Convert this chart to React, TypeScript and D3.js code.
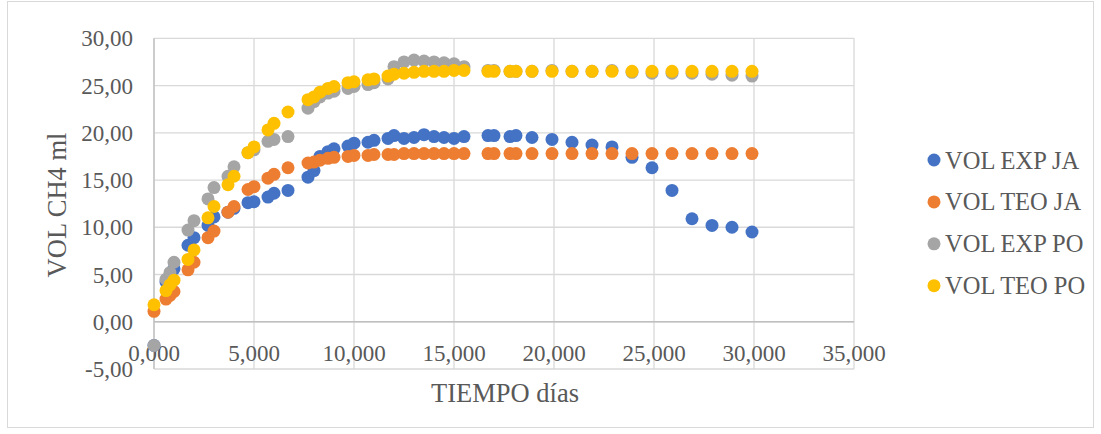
import React from "react";
import * as d3 from "d3";

// Tiempo (días) shared by all four series
const tiempo = [
  0, 0.6, 0.8, 1.0, 1.7, 2.0, 2.7, 3.0, 3.7, 4.0, 4.7, 5.0, 5.7, 6.0, 6.7,
  7.7, 8.0, 8.3, 8.7, 9.0, 9.7, 10.0, 10.7, 11.0, 11.7, 12.0, 12.5, 13.0,
  13.5, 14.0, 14.5, 15.0, 15.5, 16.7, 17.0, 17.8, 18.1, 18.9, 19.9, 20.9,
  21.9, 22.9, 23.9, 24.9, 25.9, 26.9, 27.9, 28.9, 29.9,
];

const volExpJA = [
  -2.5, 4.2, 4.8, 5.6, 8.1, 8.9, 10.2, 11.1, 11.6, 12.0, 12.6, 12.7, 13.2,
  13.6, 13.9, 15.3, 16.0, 17.5, 18.0, 18.3, 18.6, 18.9, 19.0, 19.2, 19.4,
  19.7, 19.4, 19.5, 19.8, 19.6, 19.5, 19.4, 19.6, 19.7, 19.7, 19.6, 19.7,
  19.5, 19.3, 19.0, 18.7, 18.5, 17.4, 16.3, 13.9, 10.9, 10.2, 10.0, 9.5,
];

const volTeoJA = [
  1.1, 2.4, 2.8, 3.2, 5.5, 6.3, 8.9, 9.6, 11.6, 12.2, 14.0, 14.3, 15.2,
  15.6, 16.3, 16.8, 16.9, 17.1, 17.3, 17.4, 17.5, 17.6, 17.6, 17.7, 17.7,
  17.7, 17.8, 17.8, 17.8, 17.8, 17.8, 17.8, 17.8, 17.8, 17.8, 17.8, 17.8,
  17.8, 17.8, 17.8, 17.8, 17.8, 17.8, 17.8, 17.8, 17.8, 17.8, 17.8, 17.8,
];

const volExpPO = [
  -2.5, 4.5, 5.2, 6.3, 9.7, 10.7, 13.0, 14.2, 15.4, 16.4, 17.9, 18.2, 19.1,
  19.3, 19.6, 22.6, 23.3, 23.8, 24.2, 24.4, 24.7, 24.9, 25.1, 25.3, 25.7,
  27.0, 27.5, 27.7, 27.6, 27.5, 27.4, 27.3, 27.0, 26.6, 26.6, 26.5, 26.5,
  26.5, 26.6, 26.5, 26.5, 26.6, 26.4, 26.3, 26.3, 26.3, 26.2, 26.1, 26.0,
];

const volTeoPO = [
  1.8, 3.3, 3.9, 4.4, 6.6, 7.6, 11.0, 12.2, 14.5, 15.4, 17.9, 18.5, 20.3,
  21.0, 22.2, 23.5, 23.8, 24.3, 24.7, 24.9, 25.3, 25.4, 25.6, 25.7, 26.0,
  26.2, 26.3, 26.4, 26.5, 26.5, 26.5, 26.6, 26.6, 26.5, 26.5, 26.5, 26.5,
  26.5, 26.5, 26.5, 26.5, 26.5, 26.5, 26.5, 26.5, 26.5, 26.5, 26.5, 26.5,
];

const seriesNames = ["VOL EXP JA", "VOL TEO JA", "VOL EXP PO", "VOL TEO PO"];
const seriesValues = [volExpJA, volTeoJA, volExpPO, volTeoPO];
const seriesColors = ["#4472C4", "#ED7D31", "#A5A5A5", "#FFC000"];

const xTicks = [0, 5, 10, 15, 20, 25, 30, 35];
const yTicks = [-5, 0, 5, 10, 15, 20, 25, 30];

const xTitle = "TIEMPO días";
const yTitle = "VOL CH4 ml";

const W = 1101;
const H = 434;
const FONT = "'Liberation Serif', 'Times New Roman', serif";
const TEXT = "#595959";
const GRID = "#D9D9D9";

const x = d3.scaleLinear().domain([0, 35]).range([154, 854]);
const y = d3.scaleLinear().domain([-5, 30]).range([369, 38.3]);

// Spanish-style decimals with a plain hyphen for negatives
const fmt = (spec: string) => (v: number) =>
  d3.format(spec)(v).replace("\u2212", "-").replace(".", ",");
const fmtX = fmt(".3f");
const fmtY = fmt(".2f");

export default function App() {
  const r = 6.5;
  return (
    <svg
      width={W}
      height={H}
      style={{ position: "absolute", left: 0, top: 0, background: "#fff" }}
      fontFamily={FONT}
    >
      <rect x={7.5} y={1.5} width={1086} height={426} fill="#fff" stroke={GRID} />

      {/* grid */}
      {yTicks.map((t) => (
        <line key={"gy" + t} x1={x(0)} x2={x(35)} y1={y(t)} y2={y(t)} stroke={GRID} strokeWidth={1.3} />
      ))}
      {xTicks.map((t) => (
        <line key={"gx" + t} x1={x(t)} x2={x(t)} y1={y(-5)} y2={y(30)} stroke={GRID} strokeWidth={1.3} />
      ))}
      {/* axis lines */}
      <line x1={x(0)} x2={x(35)} y1={y(0)} y2={y(0)} stroke="#BFBFBF" strokeWidth={1.3} />
      <line x1={x(0)} x2={x(0)} y1={y(-5)} y2={y(30)} stroke="#BFBFBF" strokeWidth={1.3} />

      {/* tick labels */}
      {yTicks.map((t) => (
        <text key={"ty" + t} x={133} y={y(t)} dy="0.35em" textAnchor="end" fontSize={23} fill={TEXT}>
          {fmtY(t)}
        </text>
      ))}
      {xTicks.map((t) => (
        <text key={"tx" + t} x={x(t)} y={361} textAnchor="middle" fontSize={23} fill={TEXT}>
          {fmtX(t)}
        </text>
      ))}

      {/* axis titles */}
      <text x={505} y={402} textAnchor="middle" fontSize={26.5} fill={TEXT}>
        {xTitle}
      </text>
      <text
        transform={`translate(57,205) rotate(-90)`}
        textAnchor="middle"
        dy="0.35em"
        fontSize={26.5}
        fill={TEXT}
      >
        {yTitle}
      </text>

      {/* series */}
      {seriesValues.map((vals, si) => (
        <g key={"s" + si} fill={seriesColors[si]}>
          {vals.map((v, i) => (
            <circle key={i} cx={x(tiempo[i])} cy={y(v)} r={r} />
          ))}
        </g>
      ))}

      {/* legend */}
      {seriesNames.map((name, i) => (
        <g key={"lg" + i} transform={`translate(0,${160 + i * 41.9})`}>
          <circle cx={934} cy={0} r={6.5} fill={seriesColors[i]} />
          <text x={945} y={0} dy="0.35em" fontSize={24.5} fill={TEXT}>
            {name}
          </text>
        </g>
      ))}
    </svg>
  );
}
